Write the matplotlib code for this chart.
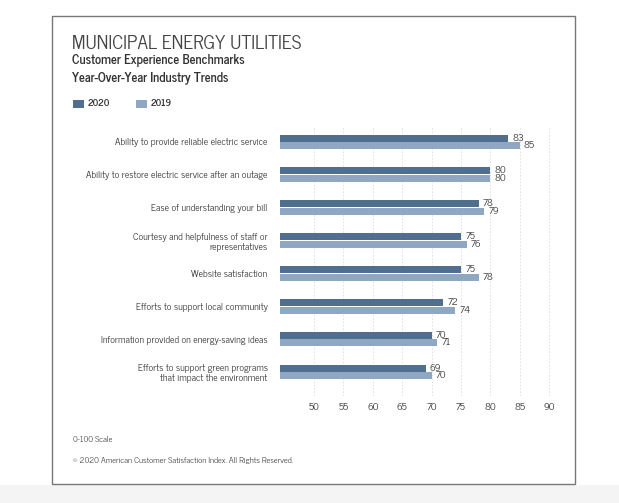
import matplotlib
matplotlib.use("Agg")
import matplotlib.pyplot as plt
from matplotlib.patches import Rectangle
import numpy as np

FONT = ["News Cycle", "DejaVu Sans"]
plt.rcParams["font.family"] = FONT

categories = [
    "Ability to provide reliable electric service",
    "Ability to restore electric service after an outage",
    "Ease of understanding your bill",
    "Courtesy and helpfulness of staff or\nrepresentatives",
    "Website satisfaction",
    "Efforts to support local community",
    "Information provided on energy-saving ideas",
    "Efforts to support green programs\nthat impact the environment",
]
values_2020 = [83, 80, 78, 75, 75, 72, 70, 69]
values_2019 = [85, 80, 79, 76, 78, 74, 71, 70]
x_ticks = [50, 55, 60, 65, 70, 75, 80, 85, 90]
series_labels = ["2020", "2019"]

C2020 = "#506f8f"
C2019 = "#8fa7c3"
TXT = "#333333"

W, H = 619, 503
fig = plt.figure(figsize=(W / 100, H / 100), dpi=100)

def fx(px):
    return px / W

def fy(py):
    return 1 - py / H

fig.patches.append(Rectangle((0, 0), 1, fy(485), transform=fig.transFigure,
                             facecolor="#f4f4f4", edgecolor="none", zorder=0))
fig.patches.append(Rectangle((fx(52.5), fy(483.5)), fx(575) - fx(52.5), fy(16) - fy(483.5),
                             transform=fig.transFigure, facecolor="white",
                             edgecolor="#777777", linewidth=1.0, zorder=1))

ax_left, ax_right, ax_top, ax_bot = 280, 560.75, 125.5, 395.6
ax = fig.add_axes([fx(ax_left), fy(ax_bot), fx(ax_right) - fx(ax_left), fy(ax_top) - fy(ax_bot)])
ax.set_zorder(2)
ax.patch.set_alpha(0)

y = np.arange(len(categories))
bh = 0.213
off = 0.117
ax.barh(y - off, [v - 40 for v in values_2020], left=40, height=bh, color=C2020, zorder=3)
ax.barh(y + off, [v - 40 for v in values_2019], left=40, height=bh, color=C2019, zorder=3)
for yy, v in zip(y - off, values_2020):
    ax.annotate(str(v), (v, yy), xytext=(3, 0), textcoords="offset points",
                va="center", ha="left", fontsize=7.3, color=TXT)
for yy, v in zip(y + off, values_2019):
    ax.annotate(str(v), (v, yy), xytext=(3, 0), textcoords="offset points",
                va="center", ha="left", fontsize=7.3, color=TXT)

ax.set_xlim(44.2, 92)
ax.set_ylim(7.72, -0.5)
ax.set_xticks(x_ticks)
ax.set_xticklabels([str(t) for t in x_ticks], fontsize=7.3, color=TXT)
ax.set_yticks(y)
ax.set_yticklabels(categories, fontsize=7.0, color=TXT, linespacing=1.2)
ax.tick_params(axis="both", length=0)
ax.tick_params(axis="y", pad=9)
ax.tick_params(axis="x", pad=5)
ax.grid(axis="x", color="#dcdcdc", linestyle=(0, (2, 2)), linewidth=0.6, zorder=0)
for s in ax.spines.values():
    s.set_visible(False)

fig.text(fx(72), fy(49), "MUNICIPAL ENERGY UTILITIES", fontsize=13.7, color="#444444",
         va="baseline", ha="left")
fig.text(fx(72), fy(64), "Customer Experience Benchmarks", fontsize=9.2, color="#333333",
         fontweight="bold", va="baseline")
fig.text(fx(72), fy(81), "Year-Over-Year Industry Trends", fontsize=9.2, color="#333333",
         fontweight="bold", va="baseline")

for xs, c, lab in [(73, C2020, series_labels[0]), (136, C2019, series_labels[1])]:
    fig.patches.append(Rectangle((fx(xs), fy(108)), fx(11), fy(100) - fy(108),
                                 transform=fig.transFigure, facecolor=c, edgecolor="none", zorder=3))
    fig.text(fx(xs + 15), fy(104), lab, fontsize=7.0, color="#333333",
             fontweight="bold", va="center")

fig.text(fx(73), fy(440), "0-100 Scale", fontsize=6.1, color="#444444", va="center")
fig.text(fx(73), fy(460), "\u00a9 2020 American Customer Satisfaction Index. All Rights Reserved.",
         fontsize=6.1, color="#444444", va="center")

fig.savefig("out.png", dpi=100)
